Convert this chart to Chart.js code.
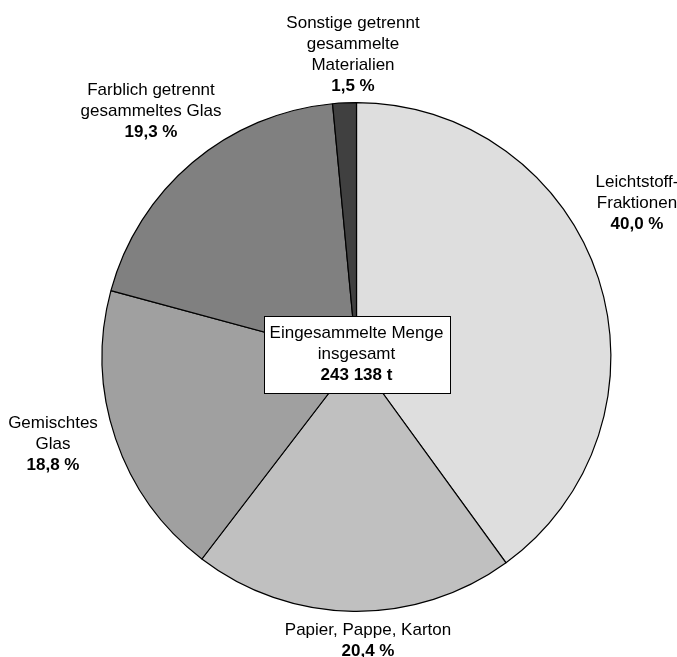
<!DOCTYPE html>
<html>
<head>
<meta charset="utf-8">
<script src="https://cdn.jsdelivr.net/npm/chart.js@4/dist/chart.umd.min.js"></script>
<style>
  html, body { margin: 0; padding: 0; background: #fff; }
  #wrap { width: 677px; height: 657px; }
</style>
</head>
<body>
<div id="wrap"><canvas id="pie" width="677" height="657"></canvas></div>
<script>
// DATA
var categories = [
  ["Leichtstoff-", "Fraktionen"],
  ["Papier, Pappe, Karton"],
  ["Gemischtes", "Glas"],
  ["Farblich getrennt", "gesammeltes Glas"],
  ["Sonstige getrennt", "gesammelte", "Materialien"]
];
var shares = [40.0, 20.4, 18.8, 19.3, 1.5];
var sliceColors = ["#dedede", "#c0c0c0", "#a0a0a0", "#808080", "#404040"];
var totalLabel = ["Eingesammelte Menge", "insgesamt"];
var totalValue = "243 138 t";

// label centre positions (layout only), first line y
var labelPos = [
  [637, 182],
  [368, 630],
  [53, 423],
  [151, 90],
  [353, 23]
];

var FONT = "'Liberation Sans', Arial, Helvetica, sans-serif";
var LH = 21;

function fmt(v) {
  return v.toFixed(1).replace(".", ",") + " %";
}

var labelPlugin = {
  id: "labels",
  afterDraw: function (chart) {
    var ctx = chart.ctx;
    ctx.save();
    ctx.fillStyle = "#000";
    ctx.textAlign = "center";
    ctx.textBaseline = "middle";
    categories.forEach(function (lines, i) {
      var x = labelPos[i][0], y = labelPos[i][1];
      ctx.font = "17px " + FONT;
      lines.forEach(function (t, j) {
        ctx.fillText(t, x, y + j * LH);
      });
      ctx.font = "bold 17px " + FONT;
      ctx.fillText(fmt(shares[i]), x, y + lines.length * LH);
    });

    // centre box
    var arc = chart.getDatasetMeta(0).data[0];
    var cx = arc.x, cy = arc.y;
    var bw = 186, bh = 77;
    var bx = Math.round(cx - bw / 2) + 0.5, by = Math.round(cy - 41) + 0.5;
    ctx.fillStyle = "#fff";
    ctx.fillRect(bx, by, bw, bh);
    ctx.strokeStyle = "#000";
    ctx.lineWidth = 1;
    ctx.strokeRect(bx, by, bw, bh);
    ctx.fillStyle = "#000";
    ctx.font = "17px " + FONT;
    ctx.fillText(totalLabel[0], cx, by + 17);
    ctx.fillText(totalLabel[1], cx, by + 17 + LH);
    ctx.font = "bold 17px " + FONT;
    ctx.fillText(totalValue, cx, by + 17 + 2 * LH);
    ctx.restore();
  }
};

new Chart("pie", {
  type: "pie",
  data: {
    labels: categories.map(function (l) { return l.join(" "); }),
    datasets: [
      {
        data: shares,
        backgroundColor: sliceColors,
        borderColor: "#000",
        borderWidth: 1.2
      }
    ]
  },
  options: {
    responsive: false,
    animation: false,
    layout: { padding: { left: 101, right: 65, top: 102, bottom: 45 } },
    plugins: {
      legend: { display: false },
      tooltip: { enabled: false }
    }
  },
  plugins: [labelPlugin]
});
</script>
</body>
</html>
